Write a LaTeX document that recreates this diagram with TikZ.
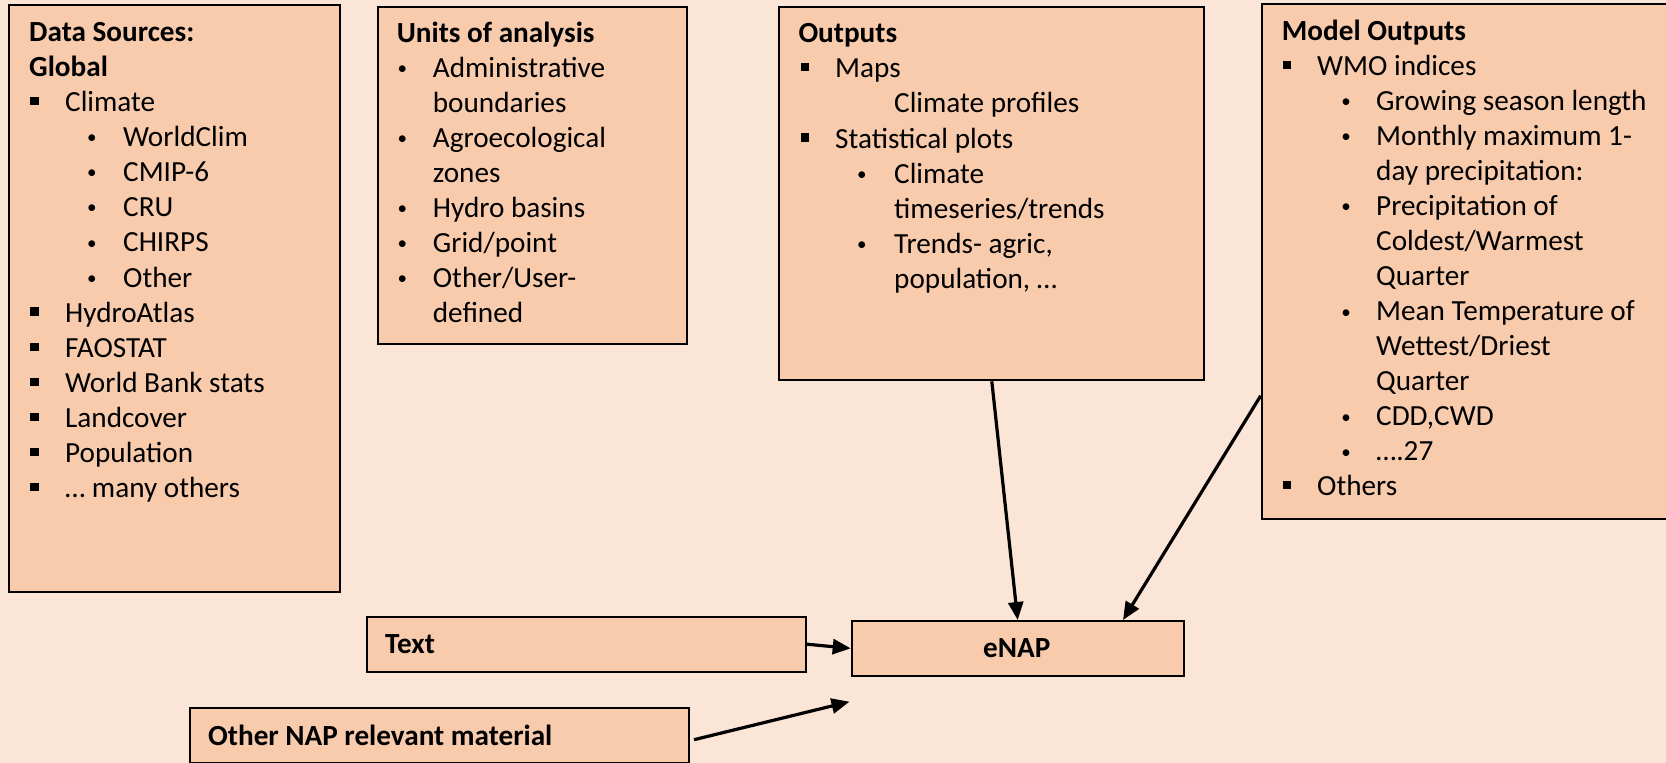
\documentclass[tikz,border=0pt]{standalone}
\usepackage{fontspec}
\setmainfont{Carlito}
\usetikzlibrary{arrows.meta}
\definecolor{bgc}{HTML}{FBE5D6}
\definecolor{boxc}{HTML}{F8CBAD}
\newcommand\fs{\fontsize{29.2}{35}\selectfont}
\newcommand\sqbul{\rule[6.5pt]{8.3pt}{8.3pt}}
\newcommand\rdbul{\raisebox{2.8pt}{\fontsize{19}{19}\selectfont •}}
% title line: name, x, y, text
\newcommand\tline[4]{\node[ttl] (#1) at (#2,{#3}) {#4};}
% plain line: name, x, y, text
\newcommand\pline[4]{\node[txt] (#1) at (#2,{#3}) {#4};}
% bullet line: name, bullet centre x, text x, y, bullet, text
\newcommand\bline[6]{\node[txt] (#1) at (#3,{#4}) {\llap{\makebox[0pt]{#5}\hspace*{\dimexpr#3pt-#2pt\relax}}#6};}
\begin{document}
\begin{tikzpicture}[x=1pt,y=-1pt,
  box/.style={draw=black,line width=2pt,fill=boxc,inner sep=0pt,anchor=north west},
  txt/.style={inner sep=0pt,anchor=base west,font=\fs},
  ttl/.style={txt,font=\fs\bfseries},
  conn/.style={draw=black,line width=3.2pt,-{Triangle[length=18pt,width=15pt]}}]
\clip (0,0) rectangle (1666,763);
\fill[bgc] (0,0) rectangle (1666,763);
% boxes
\node[box,minimum width=331pt,minimum height=586.7pt] (b1) at (8.3,4) {};
\node[box,minimum width=309.3pt,minimum height=337.6pt] (b2) at (376.7,5.7) {};
\node[box,minimum width=425pt,minimum height=373.6pt] (b3) at (778.3,5.7) {};
\node[box,minimum width=430pt,minimum height=515.3pt] (b4) at (1260.7,2.7) {};
\node[box,minimum width=439pt,minimum height=55pt] (txtbox) at (366,615.7) {};
\node[box,minimum width=332pt,minimum height=54.7pt] (enap) at (850.7,620) {};
\node[box,minimum width=499.2pt,minimum height=55pt] (oth) at (188.8,706.7) {};
% box 1
\tline{a0}{29}{41}{Data Sources:}
\tline{a1}{29}{41+1*35.15}{Global}
\bline{a2}{34.2}{65}{41+2*35.15}{\sqbul}{Climate}
\bline{a3}{91.7}{123}{41+3*35.15}{\rdbul}{WorldClim}
\bline{a4}{91.7}{123}{41+4*35.15}{\rdbul}{CMIP-6}
\bline{a5}{91.7}{123}{41+5*35.15}{\rdbul}{CRU}
\bline{a6}{91.7}{123}{41+6*35.15}{\rdbul}{CHIRPS}
\bline{a7}{91.7}{123}{41+7*35.15}{\rdbul}{Other}
\bline{a8}{34.2}{65}{41+8*35.15}{\sqbul}{HydroAtlas}
\bline{a9}{34.2}{65}{41+9*35.15}{\sqbul}{FAOSTAT}
\bline{a10}{34.2}{65}{41+10*35.15}{\sqbul}{World Bank stats}
\bline{a11}{34.2}{65}{41+11*35.15}{\sqbul}{Landcover}
\bline{a12}{34.2}{65}{41+12*35.15}{\sqbul}{Population}
\bline{a13}{34.2}{65}{41+13*35.15}{\sqbul}{… many others}
% box 2
\tline{u0}{396.7}{42}{Units of analysis}
\bline{u1}{402.2}{432.7}{42+1*35.06}{\rdbul}{Administrative}
\pline{u2}{432.7}{42+2*35.06}{boundaries}
\bline{u3}{402.2}{432.7}{42+3*35.06}{\rdbul}{Agroecological}
\pline{u4}{432.7}{42+4*35.06}{zones}
\bline{u5}{402.2}{432.7}{42+5*35.06}{\rdbul}{Hydro basins}
\bline{u6}{402.2}{432.7}{42+6*35.06}{\rdbul}{Grid/point}
\bline{u7}{402.2}{432.7}{42+7*35.06}{\rdbul}{Other/User-}
\pline{u8}{432.7}{42+8*35.06}{defined}
% box 3
\tline{o0}{798.3}{42.5}{Outputs}
\bline{o1}{804.8}{835}{42.5+1*35.2}{\sqbul}{Maps}
\pline{o2}{894}{42.5+2*35.2}{Climate profiles}
\bline{o3}{804.8}{835}{42.5+3*35.2}{\sqbul}{Statistical plots}
\bline{o4}{861.7}{894}{42.5+4*35.2}{\rdbul}{Climate}
\pline{o5}{894}{42.5+5*35.2}{timeseries/trends}
\bline{o6}{861.7}{894}{42.5+6*35.2}{\rdbul}{Trends- agric,}
\pline{o7}{894}{42.5+7*35.2}{population, …}
% box 4
\tline{m0}{1281.7}{40.6}{Model Outputs}
\bline{m1}{1287}{1317}{40.6+1*35.03}{\sqbul}{WMO indices}
\bline{m2}{1346}{1376}{40.6+2*35.03}{\rdbul}{Growing season length}
\bline{m3}{1346}{1376}{40.6+3*35.03}{\rdbul}{Monthly maximum 1-}
\pline{m4}{1376}{40.6+4*35.03}{day precipitation:}
\bline{m5}{1346}{1376}{40.6+5*35.03}{\rdbul}{Precipitation of}
\pline{m6}{1376}{40.6+6*35.03}{Coldest/Warmest}
\pline{m7}{1376}{40.6+7*35.03}{Quarter}
\bline{m8}{1346}{1376}{40.6+8*35.03}{\rdbul}{Mean Temperature of}
\pline{m9}{1376}{40.6+9*35.03}{Wettest/Driest}
\pline{m10}{1376}{40.6+10*35.03}{Quarter}
\bline{m11}{1346}{1376}{40.6+11*35.03}{\rdbul}{CDD,CWD}
\bline{m12}{1346}{1376}{40.6+12*35.03}{\rdbul}{….27}
\bline{m13}{1287}{1317}{40.6+13*35.03}{\sqbul}{Others}
% bottom texts
\tline{ttext}{385}{653}{Text}
\node[ttl,anchor=base] (tenap) at (1016.7,657) {eNAP};
\tline{toth}{208}{745.7}{Other NAP relevant material}
% connectors
\coordinate (free) at (849.5,701.7);
\draw[conn] (b3.south) -- (enap.north);
\draw[conn] ([yshift=-393pt]b4.north west) -- ([xshift=272.3pt]enap.north west);
\draw[conn] (txtbox.east) -- (enap.west);
\draw[conn] ([shift={(4pt,-4.5pt)}]oth.east) -- (free);
\end{tikzpicture}
\end{document}
